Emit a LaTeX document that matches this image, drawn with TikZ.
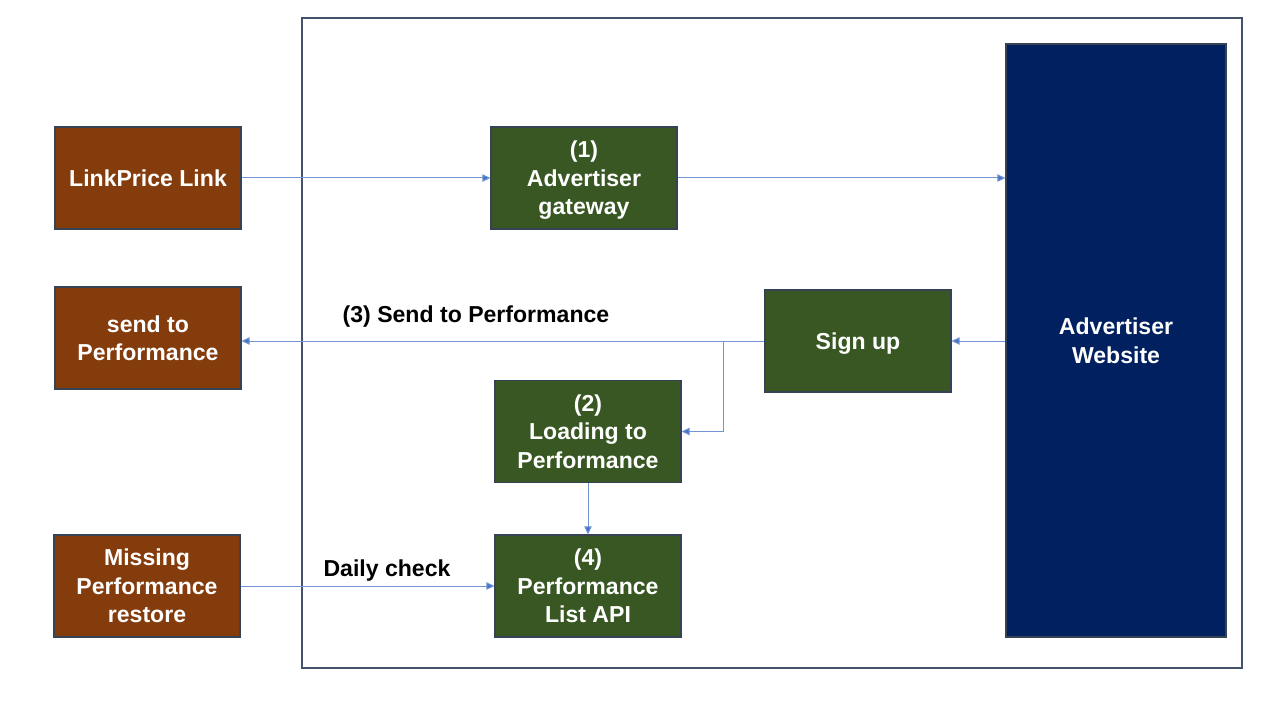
\documentclass[tikz,border=0pt]{standalone}
\usepackage{fontspec}
\setmainfont{Liberation Sans}
\usetikzlibrary{arrows.meta}
\definecolor{linkbrown}{HTML}{843C0C}
\definecolor{stepgreen}{HTML}{385723}
\definecolor{sitenavy}{HTML}{002060}
\definecolor{flowblue}{HTML}{4472C4}
\definecolor{frameslate}{HTML}{44546A}
\tikzset{
  box/.style={draw=frameslate!80!black, line width=.8pt, text=white, align=center,
    minimum width=139.5pt, minimum height=76.5pt, inner sep=0pt, text depth=0pt,
    font=\fontsize{17.3}{21.4}\selectfont\bfseries},
  srcbox/.style={box, fill=linkbrown},
  stepbox/.style={box, fill=stepgreen},
  flow/.style={-{Triangle[length=6pt, width=5.5pt, fill=flowblue]}, draw=flowblue!75, line width=.75pt},
  lbl/.style={font=\fontsize{17.3}{21.4}\selectfont\bfseries, text=black}
}
\begin{document}
\begin{tikzpicture}[x=.75pt, y=-.75pt]
\useasboundingbox (0,0) rectangle (1280,720);

%%%%%%%%%%%%%-------------frame
\draw[frameslate, line width=1.1pt] (302,18) rectangle (1242,668);

%%%%%%%%%%%%%-------------boxes
\node[srcbox] (link) at (148,178) {LinkPrice Link};
\node[srcbox] (sendperf) at (148,338) {send to\\Performance};
\node[srcbox] (missing) at (147,586) {Missing\\Performance\\restore};

\node[stepbox] (gateway) at (584,178) {(1)\\Advertiser\\gateway};
\node[stepbox] (signup) at (858,341) {Sign up};
\node[stepbox] (loading) at (588,431.5) {(2)\\Loading to\\Performance};
\node[stepbox] (listapi) at (588,586) {(4)\\Performance\\List API};

\node[box, fill=sitenavy, minimum width=165pt, minimum height=444.75pt] (website) at (1116,340.5) {Advertiser\\Website};

%%%%%%%%%%%%%-------------flows
\draw[flow] (link) -- (gateway);
\draw[flow] (gateway.east) -- (gateway.east -| website.west);
\draw[flow] (website.west |- signup.east) -- (signup.east);
\draw[flow] (signup.west) -- (signup.west -| sendperf.east);
\coordinate (split) at (723,341);
\draw[flow] (split) |- (loading.east);
\draw[flow] (loading) -- (listapi);
\draw[flow] (missing.east) -- (missing.east -| listapi.west);

\node[lbl] (sendlbl) at (476,317) {(3) Send to Performance};
\node[lbl] (dailylbl) at (387,571) {Daily check};

\end{tikzpicture}
\end{document}
